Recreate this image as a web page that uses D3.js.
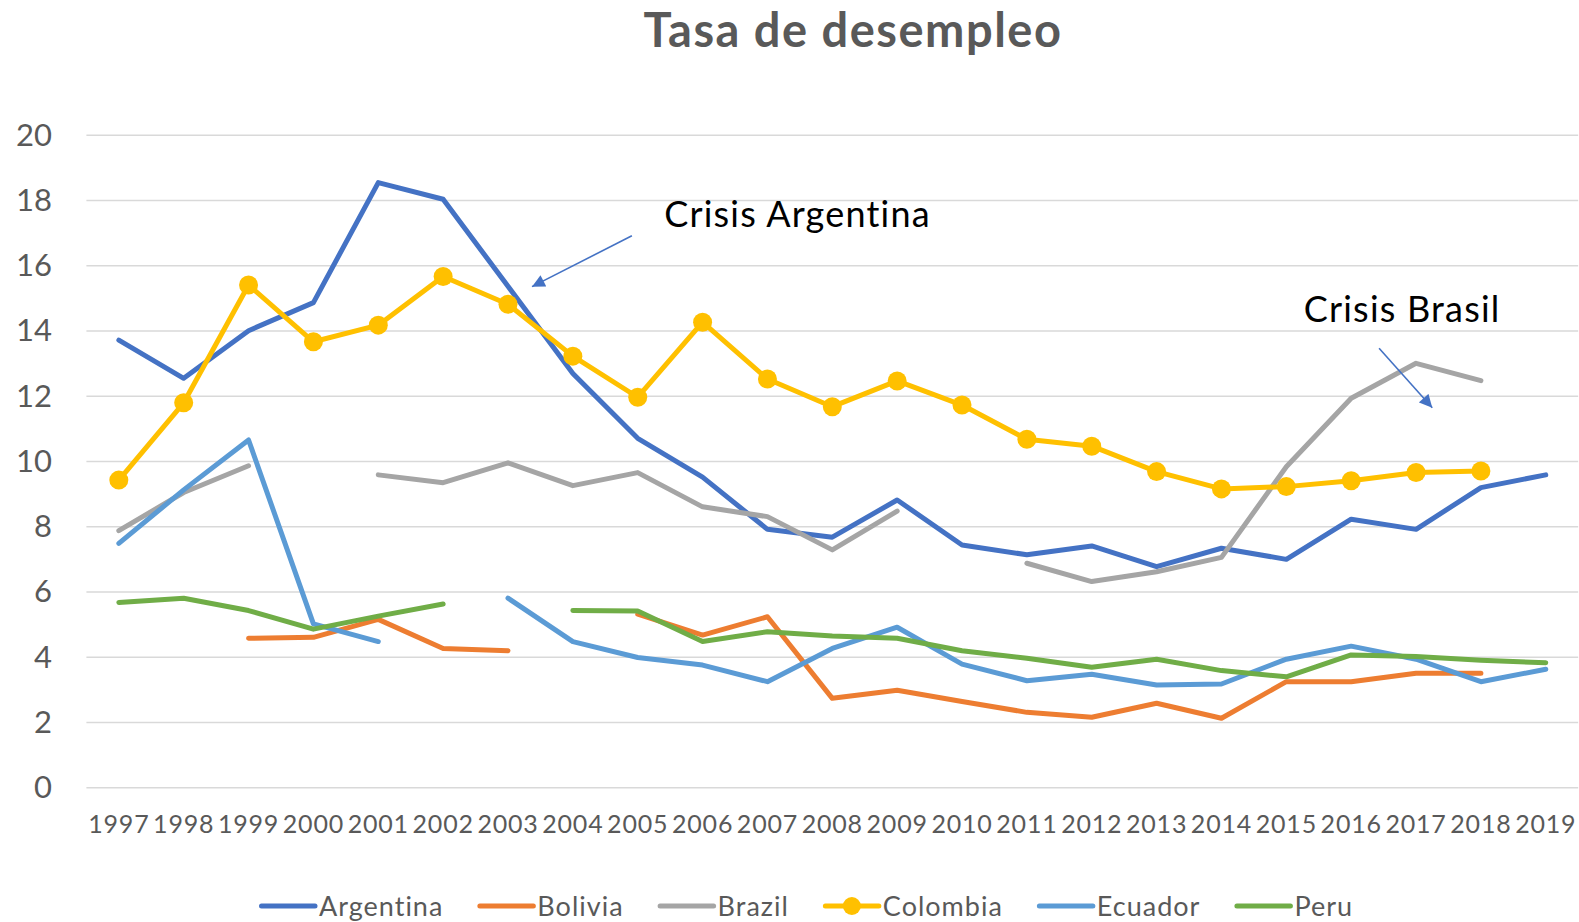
<!DOCTYPE html>
<html>
<head>
<meta charset="utf-8">
<script src="https://cdn.jsdelivr.net/npm/d3@7"></script>
<style>
  body { margin: 0; background: #fff; }
  svg text { font-family: Lato, "Open Sans", sans-serif; }
</style>
</head>
<body>
<div id="chart"></div>
<script>
// years on the x axis
const years = ["1997", "1998", "1999", "2000", "2001", "2002", "2003", "2004", "2005", "2006", "2007", "2008",
  "2009", "2010", "2011", "2012", "2013", "2014", "2015", "2016", "2017", "2018", "2019"];
const yTicks = [0, 2, 4, 6, 8, 10, 12, 14, 16, 18, 20];

// unemployment rate per country (null = no data)
const argentina = [13.72, 12.55, 14.01, 14.87, 18.55, 18.04, 15.37, 12.70, 10.71, 9.52, 7.92, 7.68, 8.82, 7.44, 7.14, 7.41, 6.78, 7.34, 7.00, 8.23, 7.92, 9.20, 9.59];
const bolivia = [null, null, 4.58, 4.61, 5.16, 4.27, 4.20, null, 5.32, 4.68, 5.24, 2.74, 2.99, 2.64, 2.31, 2.16, 2.59, 2.13, 3.25, 3.25, 3.51, 3.51, null];
const brazil = [7.88, 9.05, 9.87, null, 9.59, 9.35, 9.96, 9.26, 9.66, 8.61, 8.31, 7.29, 8.48, null, 6.88, 6.32, 6.62, 7.06, 9.84, 11.94, 13.01, 12.48, null];
const colombia = [9.43, 11.80, 15.41, 13.67, 14.18, 15.67, 14.82, 13.23, 11.97, 14.27, 12.53, 11.68, 12.47, 11.73, 10.68, 10.47, 9.69, 9.16, 9.23, 9.41, 9.66, 9.71, null];
const ecuador = [7.49, 9.13, 10.66, 5.02, 4.48, null, 5.81, 4.48, 3.99, 3.76, 3.25, 4.27, 4.92, 3.79, 3.28, 3.48, 3.15, 3.18, 3.94, 4.34, 3.94, 3.25, 3.63];
const peru = [5.68, 5.81, 5.43, 4.86, 5.26, 5.63, null, 5.43, 5.42, 4.48, 4.78, 4.65, 4.58, 4.20, 3.97, 3.69, 3.94, 3.59, 3.40, 4.07, 4.02, 3.91, 3.83];

const seriesNames = ["Argentina", "Bolivia", "Brazil", "Colombia", "Ecuador", "Peru"];
const seriesValues = [argentina, bolivia, brazil, colombia, ecuador, peru];
const seriesColors = ["#4472C4", "#ED7D31", "#A5A5A5", "#FFC000", "#5B9BD5", "#70AD47"];
const withMarkers = [false, false, false, true, false, false];

// annotations: position in year-index / value units
const notes = [
  { text: "Crisis Argentina", x: 8.41, y: 17.2, ax1: 7.91, ay1: 16.92, ax2: 6.37, ay2: 15.36 },
  { text: "Crisis Brasil", x: 18.27, y: 14.29, ax1: 19.43, ay1: 13.47, ax2: 20.25, ay2: 11.65 }
];

const width = 1579;
const height = 922;
const textColor = "#595959";

const svg = d3.select("#chart")
  .append("svg")
  .attr("width", width)
  .attr("height", height);

// x: one band per year
const x = d3.scaleBand()
  .domain(years)
  .range([86.4, 1578.2])
  .padding(0);

const xi = i => x(years[0]) + x.bandwidth() / 2 + i * x.step();

const y = d3.scaleLinear()
  .domain([0, 20])
  .range([787.7, 135.3]);

// gridlines
svg.append("g")
  .selectAll("line")
  .data(yTicks)
  .enter()
  .append("line")
  .attr("x1", 86.4)
  .attr("x2", 1578.2)
  .attr("y1", d => y(d))
  .attr("y2", d => y(d))
  .attr("stroke", "#D9D9D9")
  .attr("stroke-width", 1.5);

// y axis labels
const yAxis = d3.axisLeft(y).tickValues(yTicks).tickSize(0).tickPadding(0);
svg.append("g")
  .attr("transform", "translate(52, 0)")
  .call(yAxis)
  .call(g => g.select(".domain").remove())
  .call(g => g.selectAll("text")
    .attr("fill", textColor)
    .style("font-size", "31px")
    .style("font-family", "Lato, sans-serif"));

// x axis labels
const xAxis = d3.axisBottom(x).tickSize(0).tickPadding(0);
svg.append("g")
  .attr("transform", "translate(0, 815.5)")
  .call(xAxis)
  .call(g => g.select(".domain").remove())
  .call(g => g.selectAll("text")
    .attr("fill", textColor)
    .attr("dy", "0.71em")
    .style("font-size", "25px")
    .style("letter-spacing", "0.8px")
    .style("font-family", "Lato, sans-serif"));

// series lines
const line = d3.line()
  .defined(d => d != null)
  .x((d, i) => xi(i))
  .y(d => y(d));

seriesValues.forEach((vals, k) => {
  svg.append("path")
    .attr("fill", "none")
    .attr("stroke", seriesColors[k])
    .attr("stroke-width", 5)
    .attr("stroke-linejoin", "round")
    .attr("stroke-linecap", "round")
    .attr("d", line(vals));

  if (withMarkers[k]) {
    svg.append("g")
      .attr("fill", seriesColors[k])
      .selectAll("circle")
      .data(vals.map((v, i) => [i, v]).filter(d => d[1] != null))
      .enter()
      .append("circle")
      .attr("cx", d => xi(d[0]))
      .attr("cy", d => y(d[1]))
      .attr("r", 9.5);
  }
});

// title
svg.append("text")
  .attr("x", 853)
  .attr("y", 46.7)
  .attr("text-anchor", "middle")
  .attr("fill", textColor)
  .style("font-size", "47px")
  .style("font-weight", "bold")
  .style("letter-spacing", "1.5px")
  .text("Tasa de desempleo");

// annotations with arrows
svg.append("defs")
  .append("marker")
  .attr("id", "arrowhead")
  .attr("viewBox", "0 0 10 10")
  .attr("refX", 10)
  .attr("refY", 5)
  .attr("markerWidth", 9)
  .attr("markerHeight", 8)
  .attr("markerUnits", "strokeWidth")
  .attr("orient", "auto")
  .append("path")
  .attr("d", "M0,0 L10,5 L0,10 Z")
  .attr("fill", "#4472C4");

notes.forEach(n => {
  svg.append("text")
    .attr("x", xi(n.x))
    .attr("y", y(n.y))
    .attr("fill", "#000")
    .style("font-size", "36px")
    .style("letter-spacing", "1.2px")
    .text(n.text);
  svg.append("line")
    .attr("x1", xi(n.ax1))
    .attr("y1", y(n.ay1))
    .attr("x2", xi(n.ax2))
    .attr("y2", y(n.ay2))
    .attr("stroke", "#4472C4")
    .attr("stroke-width", 1.6)
    .attr("marker-end", "url(#arrowhead)");
});

// legend
const legend = svg.append("g")
  .attr("class", "legend")
  .attr("transform", "translate(259, 906)");
let lx = 0;
seriesNames.forEach((name, k) => {
  const item = legend.append("g").attr("transform", `translate(${lx}, 0)`);
  item.append("line")
    .attr("x1", 2.5).attr("x2", 56)
    .attr("y1", 0).attr("y2", 0)
    .attr("stroke", seriesColors[k])
    .attr("stroke-width", 5)
    .attr("stroke-linecap", "round");
  if (withMarkers[k]) {
    item.append("circle")
      .attr("cx", 29).attr("cy", 0).attr("r", 9)
      .attr("fill", seriesColors[k]);
  }
  const t = item.append("text")
    .attr("x", 60)
    .attr("y", 10)
    .attr("fill", textColor)
    .style("font-size", "27px")
    .style("letter-spacing", "1px")
    .text(name);
  lx += 60 + t.node().getComputedTextLength() + 34;
});
</script>
</body>
</html>
